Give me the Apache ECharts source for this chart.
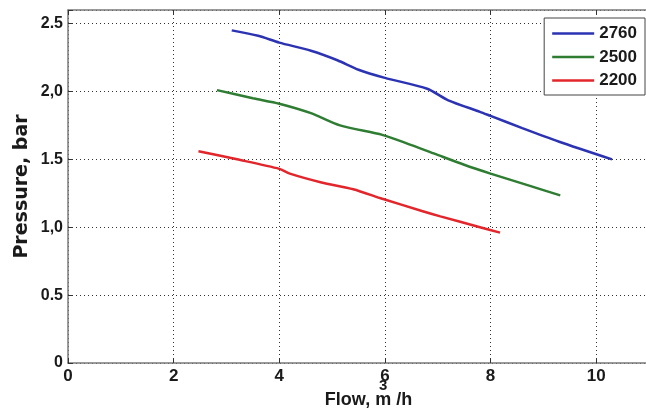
<!DOCTYPE html>
<html>
<head>
<meta charset="utf-8">
<script src="https://cdn.jsdelivr.net/npm/echarts@6/dist/echarts.min.js"></script>
<style>html,body{margin:0;padding:0;background:#fff;}#c{width:646px;height:414px;}</style>
</head>
<body>
<div id="c"></div>
<script>
// ---- data ----
var seriesNames = ['2760', '2500', '2200'];
var flow2760 = [3.1, 3.6, 4.0, 4.6, 5.1, 5.5, 6.0, 6.8, 7.2, 7.8, 8.0, 8.6, 9.3, 10.3];
var pres2760 = [2.45, 2.41, 2.36, 2.30, 2.23, 2.16, 2.10, 2.02, 1.935, 1.85, 1.82, 1.73, 1.63, 1.50];
var flow2500 = [2.82, 3.5, 4.0, 4.6, 5.15, 5.95, 6.4, 6.95, 7.5, 8.0, 8.7, 9.32];
var pres2500 = [2.01, 1.95, 1.91, 1.84, 1.75, 1.68, 1.62, 1.54, 1.46, 1.395, 1.31, 1.235];
var flow2200 = [2.47, 3.2, 4.0, 4.2, 4.8, 5.4, 5.95, 6.7, 7.05, 7.8, 8.18];
var pres2200 = [1.56, 1.50, 1.43, 1.395, 1.33, 1.28, 1.21, 1.12, 1.08, 1.00, 0.96];
var xTickLabels = ['0', '2', '4', '6', '8', '10'];
var yTickValues = [0, 0.5, 1, 1.5, 2, 2.5];
var yTickLabels = ['0', '0.5', '1,0', '1.5', '2,0', '2.5'];

function pairs(xs, ys) { return xs.map(function (x, i) { return [x, ys[i]]; }); }

var colors = ['#2b33b3', '#2f7d32', '#e2262b'];
var gridDots = { color: '#333', width: 1, type: [1, 3] };
var axisCol = '#7a7a7a';

var chart = echarts.init(document.getElementById('c'));
chart.setOption({
  animation: false,
  backgroundColor: '#fff',
  grid: { left: 68, top: 10, bottom: 51, right: -3, outerBoundsMode: 'none', containLabel: false },
  legend: {
    data: seriesNames,
    orient: 'vertical',
    right: 1, top: 18,
    backgroundColor: '#fff',
    borderColor: '#444', borderWidth: 1,
    padding: [7, 8, 6, 8],
    icon: 'rect',
    itemWidth: 42, itemHeight: 2.5, itemGap: 6.5,
    textStyle: { fontFamily: 'Liberation Sans, Arial', fontWeight: 'bold', fontSize: 17, color: '#1a1a1a' }
  },
  xAxis: [{
    type: 'value', min: 0, max: 11, interval: 2,
    axisLine: { show: true, onZero: false, lineStyle: { color: axisCol, width: 1.5 } },
    axisTick: { show: true, inside: true, length: 5, lineStyle: { color: '#333' } },
    splitLine: { show: true, showMaxLine: false, lineStyle: gridDots },
    axisLabel: {
      margin: 5, color: '#1a1a1a', fontFamily: 'Liberation Sans, Arial', fontWeight: 'bold', fontSize: 17,
      formatter: function (v) { var i = Math.round(v / 2); return (Math.abs(v - i * 2) < 1e-6 && xTickLabels[i] !== undefined) ? xTickLabels[i] : ''; }
    },
    name: '{s|       3}\n{a|Flow, m /h}',
    nameLocation: 'middle', nameGap: 18, nameMoveOverlap: false,
    nameTextStyle: {
      padding: [0, 0, 0, 20],
      rich: {
        a: { fontFamily: 'Liberation Sans, Arial', fontWeight: 'bold', fontSize: 18, color: '#1a1a1a', lineHeight: 18 },
        s: { fontFamily: 'Liberation Sans, Arial', fontWeight: 'bold', fontSize: 15, color: '#1a1a1a', lineHeight: 10 }
      }
    }
  }, {
    type: 'value', min: 0, max: 11, interval: 2, position: 'top',
    axisLine: { show: true, onZero: false, lineStyle: { color: axisCol, width: 1.5 } },
    axisTick: { show: true, inside: true, length: 5, lineStyle: { color: '#333' } },
    axisLabel: { show: false }, splitLine: { show: false }
  }],
  yAxis: [{
    type: 'value', min: 0, max: 2.6, interval: 0.5,
    axisLine: { show: true, onZero: false, lineStyle: { color: axisCol, width: 1.5 } },
    axisTick: { show: true, inside: true, length: 5, lineStyle: { color: '#333' } },
    splitLine: { show: true, lineStyle: gridDots },
    axisLabel: {
      margin: 5, color: '#1a1a1a', fontFamily: 'Liberation Sans, Arial', fontWeight: 'bold', fontSize: 16,
      formatter: function (v) { for (var i = 0; i < yTickValues.length; i++) { if (Math.abs(v - yTickValues[i]) < 1e-6) return yTickLabels[i]; } return ''; }
    },
    name: 'Pressure, bar',
    nameLocation: 'middle', nameGap: 36, nameRotate: 90, nameMoveOverlap: false,
    nameTextStyle: { fontFamily: 'DejaVu Sans', fontWeight: 'bold', fontSize: 19, color: '#1a1a1a' }
  }],
  series: [
    { name: seriesNames[0], type: 'line', data: pairs(flow2760, pres2760), symbol: 'none', smooth: 0.25, lineStyle: { color: colors[0], width: 2.5 }, itemStyle: { color: colors[0] } },
    { name: seriesNames[1], type: 'line', data: pairs(flow2500, pres2500), symbol: 'none', smooth: 0.25, lineStyle: { color: colors[1], width: 2.5 }, itemStyle: { color: colors[1] } },
    { name: seriesNames[2], type: 'line', data: pairs(flow2200, pres2200), symbol: 'none', smooth: 0.25, lineStyle: { color: colors[2], width: 2.5 }, itemStyle: { color: colors[2] } }
  ]
});
</script>
</body>
</html>
